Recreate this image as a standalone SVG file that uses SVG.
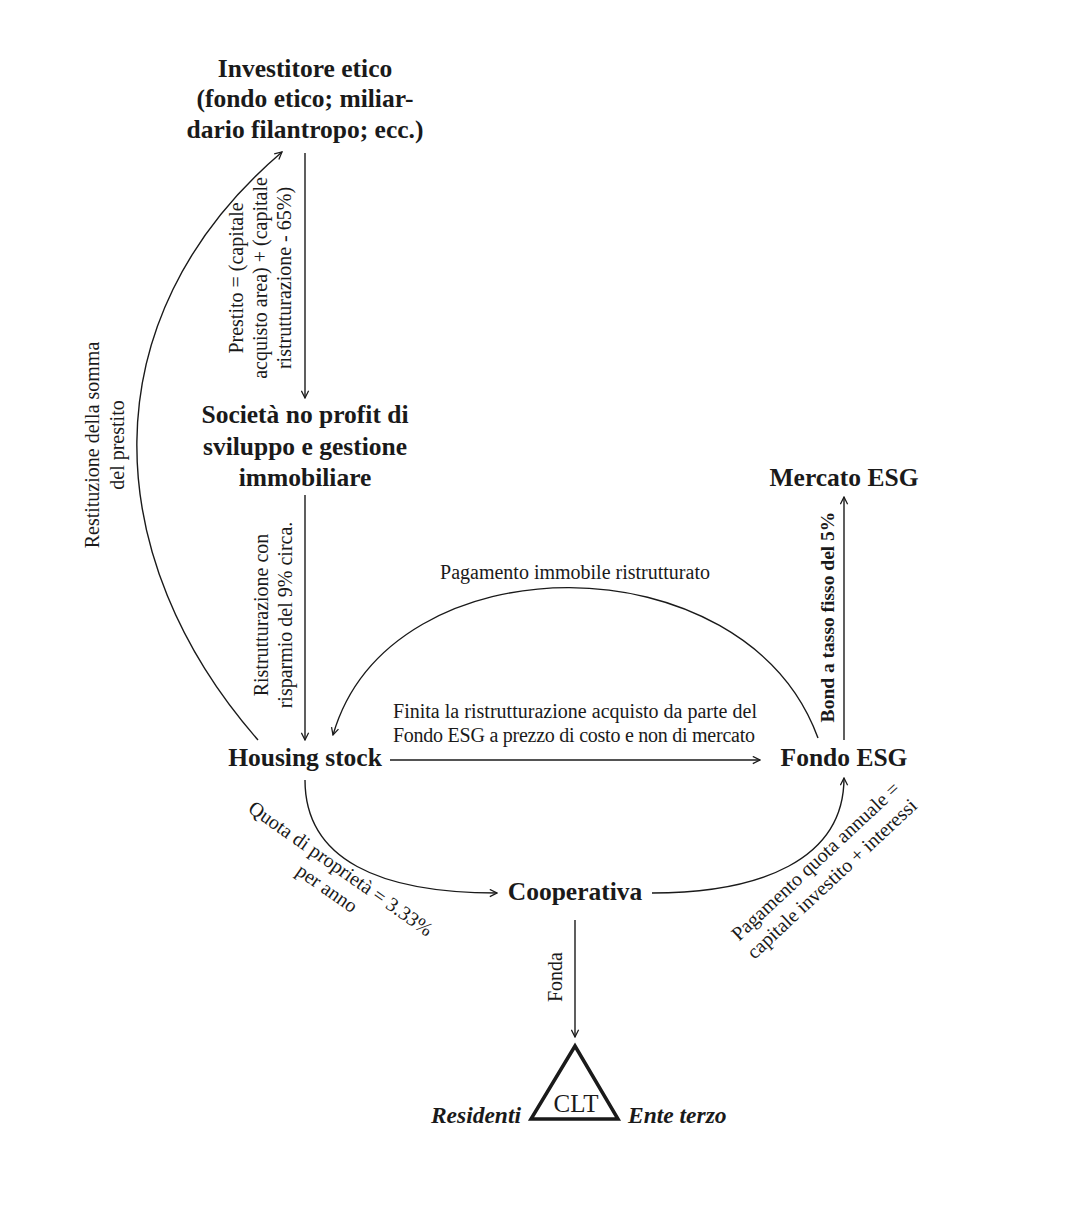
<svg xmlns="http://www.w3.org/2000/svg" width="1070" height="1206" viewBox="0 0 1070 1206">
<defs>
<marker id="arr" viewBox="0 0 10 10" refX="9" refY="5" markerWidth="9" markerHeight="9" markerUnits="userSpaceOnUse" orient="auto">
<path d="M1,1 L9,5 L1,9" fill="none" stroke="#1a1a1a" stroke-width="1.4"/>
</marker>
<style>
.node{font-family:"Liberation Serif",serif;font-weight:bold;font-size:25.5px;fill:#1a1a1a;text-anchor:middle}
.lbl{font-family:"Liberation Serif",serif;font-size:20px;fill:#1a1a1a;text-anchor:middle}
.lblb{font-family:"Liberation Serif",serif;font-size:19.5px;font-weight:bold;fill:#1a1a1a;text-anchor:middle}
.ital{font-family:"Liberation Serif",serif;font-size:23.5px;font-weight:bold;font-style:italic;fill:#1a1a1a}
.con{fill:none;stroke:#1a1a1a;stroke-width:1.4}
</style>
</defs>
<rect width="1070" height="1206" fill="#ffffff"/>

<g id="connectors">
<path class="con" d="M305,153 L305,398" marker-end="url(#arr)"/>
<path class="con" d="M305,495 L305,740" marker-end="url(#arr)"/>
<path class="con" d="M390,760 L760,760" marker-end="url(#arr)"/>
<path class="con" d="M844,740 L844,497" marker-end="url(#arr)"/>
<path class="con" d="M818,738 C745,538 390,538 333,735" marker-end="url(#arr)"/>
<path class="con" d="M258,740 C100,560 85,320 282,152" marker-end="url(#arr)"/>
<path class="con" d="M305,780 C305,860 380,893 497,893" marker-end="url(#arr)"/>
<path class="con" d="M652,893 C760,893 844,860 844,778" marker-end="url(#arr)"/>
<path class="con" d="M575,920 L575,1037" marker-end="url(#arr)"/>

<text class="lbl" transform="translate(0,278) rotate(-90)"><tspan x="0" y="243">Prestito = (capitale</tspan><tspan x="0" y="267">acquisto area) + (capitale</tspan><tspan x="0" y="291">ristrutturazione - 65%)</tspan></text>
<text class="lbl" transform="translate(0,445) rotate(-90)"><tspan x="0" y="99">Restituzione della somma</tspan><tspan x="0" y="124">del prestito</tspan></text>
<text class="lbl" transform="translate(0,615) rotate(-90)"><tspan x="0" y="268">Ristrutturazione con</tspan><tspan x="0" y="292">risparmio del 9% circa.</tspan></text>
<text class="lblb" transform="translate(0,617) rotate(-90)"><tspan x="0" y="834">Bond a tasso fisso del 5%</tspan></text>
<text class="lbl" x="575" y="579">Pagamento immobile ristrutturato</text>
<text class="lbl" style="text-anchor:start" x="393" y="718" textLength="364" lengthAdjust="spacing">Finita la ristrutturazione acquisto da parte del</text>
<text class="lbl" style="text-anchor:start" x="393" y="742" textLength="362" lengthAdjust="spacing">Fondo ESG a prezzo di costo e non di mercato</text>
<text class="lbl" transform="translate(337,874) rotate(35)"><tspan x="0" y="0">Quota di proprietà = 3.33%</tspan><tspan x="0" y="24">per anno</tspan></text>
<text class="lbl" transform="translate(820,866) rotate(-43)"><tspan x="0" y="0">Pagamento quota annuale =</tspan><tspan x="0" y="24">capitale investito + interessi</tspan></text>
<text class="lbl" transform="translate(0,977) rotate(-90)"><tspan x="0" y="562">Fonda</tspan></text>
</g>

<g id="investitore">
<text class="node"><tspan x="305" y="77">Investitore etico</tspan><tspan x="305" y="107">(fondo etico; miliar-</tspan><tspan x="305" y="138">dario filantropo; ecc.)</tspan></text>
</g>
<g id="societa">
<text class="node"><tspan x="305" y="423">Società no profit di</tspan><tspan x="305" y="455">sviluppo e gestione</tspan><tspan x="305" y="486">immobiliare</tspan></text>
</g>
<g id="mercato">
<text class="node" x="844" y="486">Mercato ESG</text>
</g>
<g id="housing">
<text class="node" x="305" y="766">Housing stock</text>
</g>
<g id="fondo">
<text class="node" x="844" y="766">Fondo ESG</text>
</g>
<g id="cooperativa">
<text class="node" x="575" y="900">Cooperativa</text>
</g>
<g id="clt">
<polygon points="575,1046 531,1119 618,1119" fill="none" stroke="#1a1a1a" stroke-width="3.5" stroke-linejoin="miter"/>
<text x="576" y="1112" style="font-family:'Liberation Serif',serif;font-size:25px;fill:#1a1a1a;text-anchor:middle">CLT</text>
</g>
<g id="residenti">
<text class="ital" x="521" y="1123" text-anchor="end">Residenti</text>
</g>
<g id="ente">
<text class="ital" x="628" y="1123">Ente terzo</text>
</g>
</svg>
